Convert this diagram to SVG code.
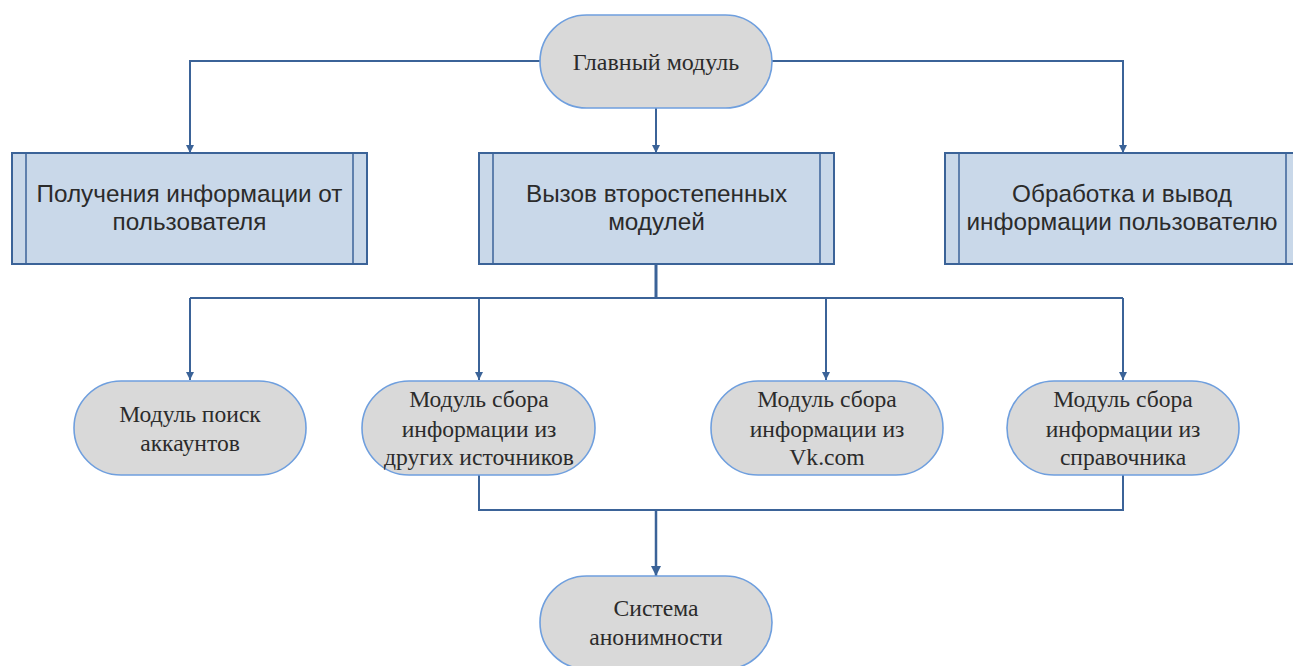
<svg xmlns="http://www.w3.org/2000/svg" width="1293" height="666" viewBox="0 0 1293 666">
<style>
.box{fill:#c9d8e9;stroke:#3b6398;stroke-width:2}
.inner{stroke:#3b6398;stroke-width:1.5;fill:none}
.pill{fill:#d9d9d9;stroke:#6f9fde;stroke-width:1.6}
.sans{font-family:"Liberation Sans",Arial,sans-serif;font-size:24.3px;fill:#2b2b2b;text-anchor:middle}
.serif{font-family:"Liberation Serif","Times New Roman",serif;font-size:23.6px;fill:#2b2b2b;text-anchor:middle}
.conn{fill:none;stroke:#3b6398;stroke-width:2}
.arr{marker-end:url(#ah)}
</style>
<defs>
<marker id="ah" viewBox="0 0 10 10" refX="10" refY="5" markerWidth="4" markerHeight="5" markerUnits="strokeWidth" orient="auto">
<path d="M0,0 L10,5 L0,10 z" fill="#3b6398"/>
</marker>
</defs>
<rect width="1293" height="666" fill="#ffffff"/>
<g id="connectors">
<path class="conn arr" d="M540,61 H190 V153"/>
<path class="conn arr" d="M772,61 H1123 V153"/>
<path class="conn arr" d="M656,108 V153"/>
<path class="conn" style="stroke-width:3" d="M656,264 V298"/>
<path class="conn" d="M190,298 H1123"/>
<path class="conn arr" d="M190,298 V380"/>
<path class="conn arr" d="M479,298 V380"/>
<path class="conn arr" d="M826,298 V380"/>
<path class="conn arr" d="M1123,298 V380"/>
<path class="conn" d="M479,475 V510 H1123 V475"/>
<path class="conn arr" style="stroke-width:2.5" d="M656,510 V576"/>
</g>
<g id="main">
<rect class="pill" x="540" y="15" width="232" height="93" rx="46.5"/>
<text class="serif" x="656" y="70" style="font-size:24px">Главный модуль</text>
</g>
<g id="input">
<rect class="box" x="12" y="153" width="355" height="111"/>
<line class="inner" x1="26" y1="153" x2="26" y2="264"/>
<line class="inner" x1="353" y1="153" x2="353" y2="264"/>
<text class="sans" x="189.5" y="202">Получения информации от</text>
<text class="sans" x="189.5" y="230">пользователя</text>
</g>
<g id="call">
<rect class="box" x="479" y="153" width="355" height="111"/>
<line class="inner" x1="493" y1="153" x2="493" y2="264"/>
<line class="inner" x1="820" y1="153" x2="820" y2="264"/>
<text class="sans" x="656.5" y="202">Вызов второстепенных</text>
<text class="sans" x="656.5" y="230">модулей</text>
</g>
<g id="output">
<rect class="box" x="945" y="153" width="355" height="111"/>
<line class="inner" x1="959" y1="153" x2="959" y2="264"/>
<line class="inner" x1="1286" y1="153" x2="1286" y2="264"/>
<text class="sans" x="1122" y="202">Обработка и вывод</text>
<text class="sans" x="1122" y="230">информации пользователю</text>
</g>
<g id="search">
<rect class="pill" x="74" y="381" width="232" height="94" rx="47"/>
<text class="serif" x="190" y="422">Модуль поиск</text>
<text class="serif" x="190" y="451">аккаунтов</text>
</g>
<g id="other">
<rect class="pill" x="362" y="381" width="233" height="94" rx="47"/>
<text class="serif" x="479" y="407">Модуль сбора</text>
<text class="serif" x="479" y="437">информации из</text>
<text class="serif" x="479" y="465">других источников</text>
</g>
<g id="vk">
<rect class="pill" x="711" y="381" width="232" height="94" rx="47"/>
<text class="serif" x="827" y="407">Модуль сбора</text>
<text class="serif" x="827" y="437">информации из</text>
<text class="serif" x="827" y="465">Vk.com</text>
</g>
<g id="directory">
<rect class="pill" x="1007" y="381" width="232" height="94" rx="47"/>
<text class="serif" x="1123" y="407">Модуль сбора</text>
<text class="serif" x="1123" y="437">информации из</text>
<text class="serif" x="1123" y="465">справочника</text>
</g>
<g id="anon">
<rect class="pill" x="540" y="576" width="232" height="93" rx="46.5"/>
<text class="serif" x="656" y="616">Система</text>
<text class="serif" x="656" y="645">анонимности</text>
</g>
</svg>
